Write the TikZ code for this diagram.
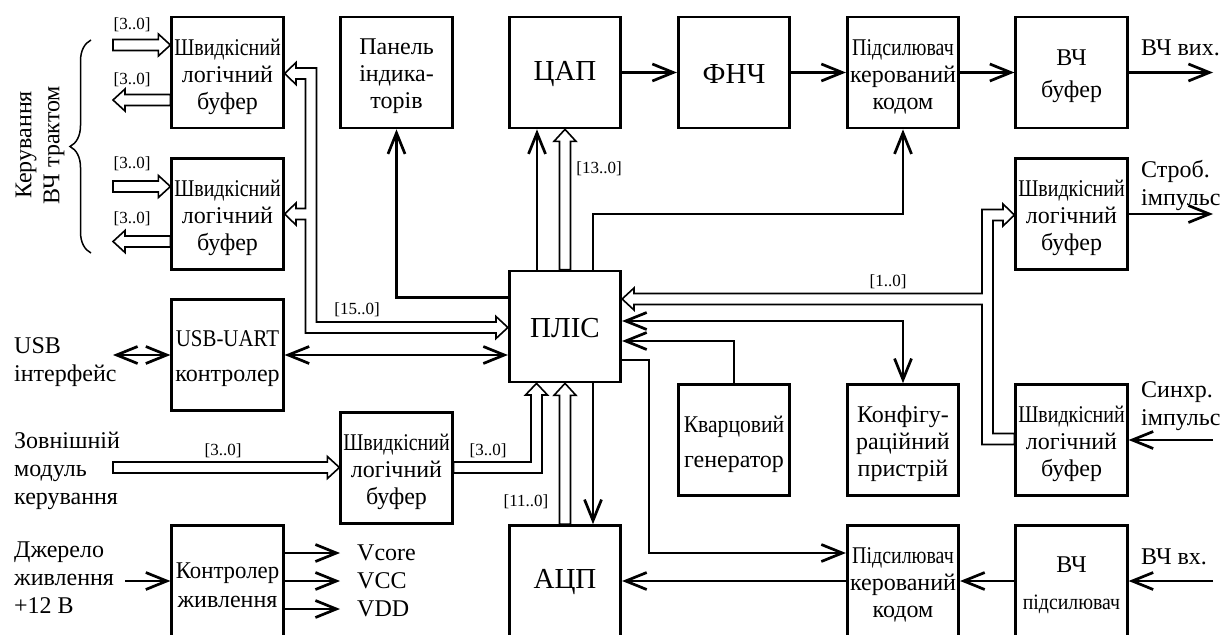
\documentclass[tikz,border=0pt]{standalone}
\usepackage{fontspec}
\usepackage{graphicx}
\setmainfont{Liberation Serif}
\newfontfamily\cnd[FakeStretch=0.83]{Liberation Serif}
\newfontfamily\cndb[FakeStretch=0.9]{Liberation Serif}
\usetikzlibrary{arrows.meta,calc,decorations.pathreplacing}

\newcommand\bxf{\fontsize{24}{27}\selectfont}
\newcommand\bigf{\fontsize{29}{29}\selectfont}
\newcommand\labf{\fontsize{24}{28}\selectfont}
\newcommand\busf{\fontsize{17}{17}\selectfont}
\newcommand\sx[2]{\scalebox{#1}[1]{#2}}

% straight bus arrow: tail -> tip (hollow double line with closed tail)
\newcommand\busarrow[2]{%
  \path let \p1=(#1), \p2=(#2), \n1={atan2(\y2-\y1,\x2-\x1)}, \n2={veclen(\x2-\x1,\y2-\y1)} in
    \pgfextra{\xdef\busang{\n1}\xdef\buslen{\n2}\xdef\busx{\x1}\xdef\busy{\y1}};
  \draw[bus, shift={(\busx,\busy)}, rotate=\busang]
    (0pt,5.5pt) -- ({\buslen-12pt},5.5pt) -- ({\buslen-12pt},11pt) -- ({\buslen},0pt)
    -- ({\buslen-12pt},-11pt) -- ({\buslen-12pt},-5.5pt) -- (0pt,-5.5pt) -- cycle;}

\begin{document}
\begin{tikzpicture}[x=1pt,y=-1pt,
  btxt/.style={align=center, font=\bxf, inner sep=0pt, yshift=-4pt},
  big/.style={font=\bigf, yshift=2.5pt},
  box/.style 2 args={draw, line width=2.7pt, minimum width=111.5pt, minimum height=111pt,
    inner sep=0pt, label={[btxt,#1]center:{#2}}},
  wire/.style={line width=2.7pt},
  arr/.style={wire, -{Straight Barb[length=21pt,width=17pt]}},
  darr/.style={wire, {Straight Barb[length=21pt,width=17pt]}-{Straight Barb[length=21pt,width=17pt]}},
  bus/.style={line width=1.6pt, line join=miter},
  blab/.style={font=\busf, inner sep=0pt},
  lab/.style={font=\labf, inner sep=0pt, align=left, anchor=west}]

\useasboundingbox (0,0) rectangle (1225,634);
\clip (0,0) rectangle (1225,634);

% ---------- blocks ----------
\node[box={}{{\cnd Швидкісний}\\логічний\\буфер}] (bufA)  at (227.5,72.5) {};
\node[box={}{{\cnd Швидкісний}\\логічний\\буфер}] (bufB)  at (227.5,214) {};
\node[box={}{Панель\\індика-\\торів}] (panel) at (396.5,72.5) {};
\node[box={big}{ЦАП}] (dac) at (565,72.5) {};
\node[box={big}{ФНЧ}] (lpf) at (734,72.5) {};
\node[box={}{{\cnd Підсилювач}\\керований\\кодом}] (ampT) at (903,72.5) {};
\node[box={font=\fontsize{24}{32}\selectfont}{ВЧ\\буфер}] (rfbuf) at (1071.5,72.5) {};
\node[box={}{{\cnd Швидкісний}\\логічний\\буфер}] (strob) at (1071.5,214) {};
\node[box={big}{ПЛІС}] (plis) at (565,326.5) {};
\node[box={font=\fontsize{24}{35}\selectfont}{\sx{0.87}{USB-UART}\\контролер}] (usb) at (227.5,355) {};
\node[box={}{{\cnd Швидкісний}\\логічний\\буфер}] (mbuf) at (396.5,468) {};
\node[box={font=\fontsize{24}{35}\selectfont}{\sx{0.9}{Кварцовий}\\генератор}] (xtal) at (734,440) {};
\node[box={}{Конфігу-\\раційний\\пристрій}] (cfg) at (903,440) {};
\node[box={}{{\cnd Швидкісний}\\логічний\\буфер}] (sync) at (1071.5,440) {};
\node[box={font=\fontsize{24}{29}\selectfont}{\sx{0.95}{Контролер}\\живлення}] (pwr) at (227.5,581) {};
\node[box={big}{АЦП}] (adc) at (565,581) {};
\node[box={}{{\cnd Підсилювач}\\керований\\кодом}] (ampB) at (903,581) {};
\node[box={font=\fontsize{24}{37}\selectfont}{ВЧ\\{\fontsize{22}{22}\cndb\selectfont підсилювач}}] (rfamp) at (1071.5,581) {};

% ---------- free ends ----------
\coordinate (rfout)  at (1213,72.5);
\coordinate (strout) at (1213,214);
\coordinate (syncin) at (1213,440);
\coordinate (rfin)   at (1213,581);
\coordinate (usbext) at (113,355);
\coordinate (pwrin)  at (125,581);
\coordinate (vco) at (340,553);
\coordinate (vcc) at (340,581);
\coordinate (vdd) at (340,609);
\coordinate (bAi) at (113,45);
\coordinate (bAo) at (113,100);
\coordinate (bBi) at (113,186.5);
\coordinate (bBo) at (113,241.5);
\coordinate (extb) at (113,467.5);
\coordinate (ampBbend) at (649,360);

% ---------- single connectors ----------
\draw[arr] (dac.east) -- (lpf.west);
\draw[arr] (lpf.east) -- (ampT.west);
\draw[arr] (ampT.east) -- (rfbuf.west);
\draw[arr] (rfbuf.east) -- (rfout);
\draw[arr] (strob.east) -- (strout);
\draw[arr] (syncin) -- (sync.east);
\draw[arr] (rfin) -- (rfamp.east);
\draw[arr] (rfamp.west) -- (ampB.east);
\draw[arr] (ampB.west) -- (adc.east);
\draw[arr] (plis.east |- ampBbend) -- (ampBbend) |- (ampB.west |- 0,553);
\draw[arr] ([xshift=28pt]plis.north) -- ([xshift=28pt]plis.north |- 0,214) -| (ampT.south);
\draw[arr] ([xshift=-28pt]plis.north) -- ([xshift=-28pt]dac.south);
\draw[arr] (plis.west |- 0,297.5) -| (panel.south);
\draw[darr] (usb.east) -- (plis.west |- usb.east);
\draw[darr] (usbext) -- (usb.west);
\draw[arr] ([xshift=28pt]plis.south) -- ([xshift=28pt]adc.north);
\draw[arr] (xtal.north) |- (plis.east |- 0,341);
\draw[darr] (plis.east |- 0,321) -| (cfg.north);
\draw[arr] (pwrin) -- (pwr.west);
\draw[arr] (pwr.east |- vco) -- (vco);
\draw[arr] (pwr.east |- vcc) -- (vcc);
\draw[arr] (pwr.east |- vdd) -- (vdd);

% ---------- buses ----------
\busarrow{bAi}{bufA.west |- bAi}
\busarrow{bufA.west |- bAo}{bAo}
\busarrow{bBi}{bufB.west |- bBi}
\busarrow{bufB.west |- bBo}{bBo}
\busarrow{extb}{mbuf.west |- extb}
\busarrow{plis.north}{dac.south}
\busarrow{adc.north}{plis.south}
% [15..0]
\draw[bus] (plis.west |- 0,327.5) -- (496,316.5) -- (496,322) -- (316.5,322) -- (316.5,68)
  -- (296,68) -- (296,62.5) -- (bufA.east |- 0,73.5) -- (296,84.5) -- (296,79) -- (305.5,79)
  -- (305.5,208.5) -- (296,208.5) -- (296,203) -- (bufB.east |- 0,214) -- (296,225) -- (296,219.5)
  -- (305.5,219.5) -- (305.5,333) -- (496,333) -- (496,338.5) -- cycle;
% [3..0] middle buffer -> PLIS
\draw[bus] (mbuf.east |- 0,462) -- (531,462) -- (531,395) -- (525.5,395) -- (plis.south -| 536.5,0)
  -- (547.5,395) -- (542,395) -- (542,473) -- (mbuf.east |- 0,473) -- cycle;
% [1..0]
\draw[bus] (plis.east |- 0,299) -- (634,288) -- (634,293.5) -- (982,293.5) -- (982,209.5)
  -- (1003,209.5) -- (1003,204) -- (strob.west |- 0,215) -- (1003,226) -- (1003,220.5)
  -- (993,220.5) -- (993,433.5) -- (sync.west |- 0,433.5) -- (sync.west |- 0,444.5)
  -- (982,444.5) -- (982,304.5) -- (634,304.5) -- (634,310) -- cycle;

% ---------- bus labels ----------
\node[blab] (lA1) at (132,25) {[3..0]};
\node[blab] (lA2) at (132,80) {[3..0]};
\node[blab] (lB1) at (132,164) {[3..0]};
\node[blab] (lB2) at (132,219) {[3..0]};
\node[blab] (l15) at (357,310) {[15..0]};
\node[blab] (l13) at (599,169) {[13..0]};
\node[blab] (l11) at (526,502) {[11..0]};
\node[blab] (l3m) at (488,451) {[3..0]};
\node[blab] (l3e) at (223,451) {[3..0]};
\node[blab] (l1)  at (888,282) {[1..0]};

% ---------- outside labels ----------
\draw[line width=1.5pt, decorate, decoration={brace, amplitude=21pt}] (91,253) -- (91,40);
\node[rotate=90, font=\labf, align=center, inner sep=0pt] (ctl) at (40,145) {Керування\\ВЧ трактом};
\node[lab] (usbl) at (14,362) {USB\\інтерфейс};
\node[lab] (extl) at (14,471) {Зовнішній\\модуль\\керування};
\node[lab] (pwrl) at (14,578) {Джерело\\живлення\\+12 В};
\node[lab] (vcol) at (357,553) {Vcore};
\node[lab] (vccl) at (357,581) {VCC};
\node[lab] (vddl) at (357,609) {VDD};
\node[lab] (rfol) at (1141,48) {ВЧ вих.};
\node[lab] (strl) at (1141,185) {Строб.\\імпульс};
\node[lab] (synl) at (1141,406) {Синхр.\\імпульс};
\node[lab] (rfil) at (1141,557) {ВЧ вх.};
\end{tikzpicture}
\end{document}
